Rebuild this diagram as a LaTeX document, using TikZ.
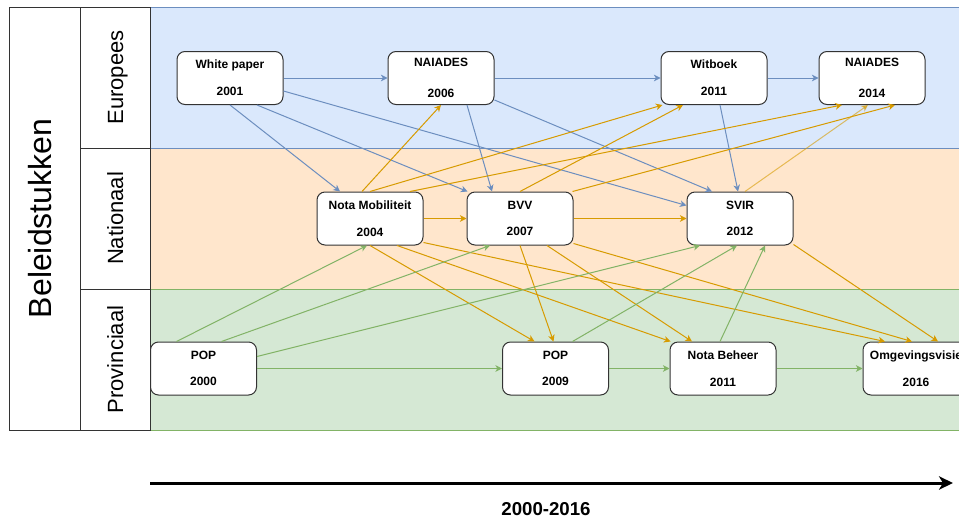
\documentclass[tikz,border=0pt]{standalone}
\usepackage{fontspec}
\setmainfont{Liberation Sans}
\usetikzlibrary{arrows.meta}
\usetikzlibrary{calc}

\definecolor{eufill}{HTML}{DAE8FC}
\definecolor{nlfill}{HTML}{FFE6CC}
\definecolor{prfill}{HTML}{D5E8D4}
\definecolor{eucol}{HTML}{6C8EBF}
\definecolor{nlcol}{HTML}{D79B00}
\definecolor{prcol}{HTML}{82B366}
\definecolor{frame}{HTML}{333333}

\begin{document}
\begin{tikzpicture}[x=0.75pt,y=-0.75pt]
            \tikzstyle{doc}=[rectangle,rounded corners=6pt,draw=frame,line width=0.75pt,fill=white,
                minimum width=79.5pt,minimum height=39.75pt,align=center,font=\bfseries\fontsize{9}{11}\selectfont]
            \tikzstyle{low}=[doc,execute at begin node={\rule{0pt}{11pt}}]
            \tikzstyle{lane}=[rotate=90,anchor=base,font=\fontsize{16.5}{20}\selectfont]
            \tikzstyle{tip}=[-{Stealth[length=5pt,width=5pt,inset=1.5pt]}]
            \tikzstyle{eu}=[draw=eucol,line width=0.75pt,tip]
            \tikzstyle{nl}=[draw=nlcol,line width=0.75pt,tip]
            \tikzstyle{pr}=[draw=prcol,line width=0.75pt,tip]

            \clip (0,0) rectangle (959,518);

            % lanes
            \fill[nlfill] (150,148) rectangle (980,289);
            \filldraw[fill=eufill,draw=eucol,line width=0.75pt] (150,7) rectangle (980,148);
            \filldraw[fill=prfill,draw=prcol,line width=0.75pt] (150,289) rectangle (980,430);

            % header
            \draw[frame,line width=0.75pt] (9,7) rectangle (80,430);
            \draw[frame,line width=0.75pt] (80,7) rectangle (150,148);
            \draw[frame,line width=0.75pt] (80,148) rectangle (150,289);
            \draw[frame,line width=0.75pt] (80,289) rectangle (150,430);

            \node[rotate=90,anchor=base,font=\fontsize{24}{29}\selectfont] (title) at (51,218.5) {Beleidstukken};
            \node[lane] (leu) at (123,77.5)  {Europees};
            \node[lane] (lnl) at (123,218.5) {Nationaal};
            \node[lane] (lpr) at (123,359.5) {Provinciaal};

            % documents
            \node[low] (wp)    at (230,78)    {White paper\\[9pt]2001};
            \node[doc] (nai6)  at (441,78)    {NAIADES\\[12pt]2006};
            \node[low] (wit)   at (714,78)    {Witboek\\[9pt]2011};
            \node[doc] (nai14) at (872,78)    {NAIADES\\[12pt]2014};

            \node[low] (nm)    at (370,218.5) {Nota Mobiliteit\\[9pt]2004};
            \node[low] (bvv)   at (520,218.5) {BVV\\[9pt]2007};
            \node[low] (svir)  at (740,218.5) {SVIR\\[9pt]2012};

            \node[low] (pop0)  at (203.5,368.5) {POP\\[9pt]2000};
            \node[low] (pop9)  at (555.5,368.5) {POP\\[9pt]2009};
            \node[low] (nb)    at (723,368.5)   {Nota Beheer\\[9pt]2011};
            \node[low] (omg)   at (916,368.5)   {Omgevingsvisie\\[9pt]2016};

            % europees
            \path[eu] (wp) -- (nai6);
            \path[eu] (nai6) -- (wit);
            \path[eu] (wit) -- (nai14);
            \path[eu] (wp.south) -- ($(nm.north)+(-30,0)$);
            \path[eu] ($(wp.south)+(27,0)$) -- ($(bvv.north west)+(1,0)$);
            \path[eu] ($(wp.east)+(0,13)$) -- ($(svir.west)+(0,-13)$);
            \path[eu] ($(nai6.south)+(26,0)$) -- ($(bvv.north)+(-28,0)$);
            \path[eu] ($(nai6.south east)+(0,-5)$) -- ($(svir.north)+(-28,0)$);
            \path[eu] ($(wit.south)+(6,0)$) -- ($(svir.north)+(-2,0)$);

            % nationaal
            \path[nl] ($(nm.north)+(-8,0)$) -- (nai6.south);
            \path[nl] (nm) -- (bvv);
            \path[nl] (nm.north) -- ($(wit.south west)+(2,0)$);
            \path[nl] ($(nm.north)+(40,0)$) -- ($(nai14.south)+(-30,0)$);
            \path[nl] (bvv.north) -- ($(wit.south)+(-31,0)$);
            \path[nl] ($(bvv.north east)+(-1,0)$) -- ($(nai14.south)+(23,0)$);
            \path[nl] (bvv) -- (svir);
            \path[nl,opacity=0.6] ($(svir.north)+(5,0)$) -- ($(nai14.south)+(-4,0)$);
            \path[nl] (nm.south) -- ($(pop9.north)+(-21,0)$);
            \path[nl] ($(nm.south)+(27,0)$) -- ($(nb.north west)+(1,0)$);
            \path[nl] ($(nm.south east)+(0,-3)$) -- ($(omg.north)+(-31,0)$);
            \path[nl] (bvv.south) -- ($(pop9.north)+(-2,0)$);
            \path[nl] ($(bvv.south)+(27,0)$) -- ($(nb.north)+(-31,0)$);
            \path[nl] ($(bvv.south east)+(0,-2)$) -- ($(omg.north)+(-4,0)$);
            \path[nl] ($(svir.south east)+(0,-1)$) -- ($(omg.north)+(22,0)$);

            % provinciaal
            \path[pr] ($(pop0.north)+(-27,0)$) -- ($(nm.south)+(-3,0)$);
            \path[pr] ($(pop0.north)+(18,0)$) -- ($(bvv.south)+(-30,0)$);
            \path[pr] ($(pop0.east)+(0,-12)$) -- ($(svir.south)+(-40,0)$);
            \path[pr] (pop0) -- (pop9);
            \path[pr] ($(pop9.north)+(17,0)$) -- ($(svir.south)+(-3,0)$);
            \path[pr] (pop9) -- (nb);
            \path[pr] ($(nb.north)+(-3,0)$) -- ($(svir.south)+(25,0)$);
            \path[pr] (nb) -- (omg);

            % tijdlijn
            \coordinate (t0) at (150,483);
            \coordinate (t1) at (953,483);
            \draw[line width=2.25pt,-{Stealth[length=10.5pt,width=10pt,inset=3pt]}] (t0) -- (t1);
            \node[inner sep=0pt,font=\bfseries\fontsize{14}{17}\selectfont] (period) at (546,509) {2000-2016};
\end{tikzpicture}
\end{document}
